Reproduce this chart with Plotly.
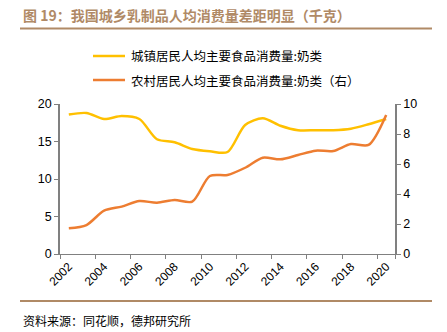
import plotly.graph_objects as go

years = [str(y) for y in range(2002, 2021)]
urban = [18.6, 18.8, 18.0, 18.4, 18.0, 15.3, 14.9, 14.0, 13.7, 13.6, 17.2, 18.1, 17.1, 16.5, 16.5, 16.5, 16.7, 17.3, 18.0]
rural = [1.71, 1.93, 2.89, 3.16, 3.53, 3.42, 3.6, 3.49, 5.2, 5.27, 5.75, 6.42, 6.31, 6.6, 6.89, 6.87, 7.33, 7.27, 9.27]
urban_name = "城镇居民人均主要食品消费量:奶类"
rural_name = "农村居民人均主要食品消费量:奶类（右）"
title_text = "图 19：我国城乡乳制品人均消费量差距明显（千克）"
source_text = "资料来源：同花顺，德邦研究所"
left_ticks = [0, 5, 10, 15, 20]
right_ticks = [0, 2, 4, 6, 8, 10]
x_labels = years[::2]

W, H = 447, 332
L, R, T, B = 60, 395, 104, 254
def px(x):
    return (x - L) / (R - L)
def py(y):
    return (B - y) / (B - T)

C_URBAN = "#FFC000"
C_RURAL = "#ED7D31"
BROWN = "#B08A66"
AXIS = "#808080"
cjk = "Noto Sans CJK SC"

fig = go.Figure()
fig.add_trace(go.Scatter(x=years, y=urban, mode="lines", name=urban_name,
                         line=dict(color=C_URBAN, width=2.5, shape="spline", smoothing=0.8),
                         showlegend=False))
fig.add_trace(go.Scatter(x=years, y=rural, mode="lines", name=rural_name, yaxis="y2",
                         line=dict(color=C_RURAL, width=2.5, shape="spline", smoothing=0.8),
                         showlegend=False))

tickfont = dict(family="Liberation Sans, Arial", size=12.5, color="#000")
fig.update_layout(
    width=W, height=H,
    margin=dict(l=L, r=W - R, t=T, b=H - B, pad=0),
    paper_bgcolor="white", plot_bgcolor="white",
    xaxis=dict(type="category", categoryorder="array", categoryarray=years,
               tickmode="array", tickvals=x_labels, ticktext=x_labels,
               tickson="boundaries", ticks="outside", ticklen=4, tickcolor=AXIS,
               tickangle=-45, tickfont=dict(family="Liberation Sans, Arial", size=12, color="#000"),
               showline=True, linecolor=AXIS, linewidth=1, showgrid=False, zeroline=False,
               range=[-0.5, 18.5]),
    yaxis=dict(range=[0, 20], tickvals=left_ticks, ticks="outside", ticklen=4, tickcolor=AXIS,
               showline=True, linecolor=AXIS, linewidth=1.5, showgrid=False, zeroline=False,
               tickfont=tickfont),
    yaxis2=dict(range=[0, 10], tickvals=right_ticks, overlaying="y", side="right",
                ticks="outside", ticklen=4, tickcolor=AXIS,
                showline=True, linecolor=AXIS, linewidth=1.5, showgrid=False, zeroline=False,
                tickfont=tickfont),
)

shapes = [
    dict(type="line", xref="paper", yref="paper", x0=px(20), x1=px(432), y0=py(28.5), y1=py(28.5),
         line=dict(color=BROWN, width=2)),
    dict(type="line", xref="paper", yref="paper", x0=px(20), x1=px(432), y0=py(301), y1=py(301),
         line=dict(color=BROWN, width=2)),
    dict(type="line", xref="paper", yref="paper", x0=px(93), x1=px(125), y0=py(56), y1=py(56),
         line=dict(color=C_URBAN, width=2.5)),
    dict(type="line", xref="paper", yref="paper", x0=px(93), x1=px(125), y0=py(80), y1=py(80),
         line=dict(color=C_RURAL, width=2.5)),
]
annotations = [
    dict(text="<b>" + title_text + "</b>", xref="paper", yref="paper", x=px(21), y=py(15),
         xanchor="left", yanchor="middle", showarrow=False,
         font=dict(family=cjk, size=14, color=BROWN)),
    dict(text=urban_name, xref="paper", yref="paper", x=px(129), y=py(56),
         xanchor="left", yanchor="middle", showarrow=False,
         font=dict(family=cjk, size=12.5, color="#000")),
    dict(text=rural_name, xref="paper", yref="paper", x=px(129), y=py(80),
         xanchor="left", yanchor="middle", showarrow=False,
         font=dict(family=cjk, size=12.5, color="#000")),
    dict(text=source_text, xref="paper", yref="paper", x=px(21), y=py(320),
         xanchor="left", yanchor="middle", showarrow=False,
         font=dict(family=cjk, size=12, color="#000")),
]
fig.update_layout(shapes=shapes, annotations=annotations)
fig.write_html("out.html")
